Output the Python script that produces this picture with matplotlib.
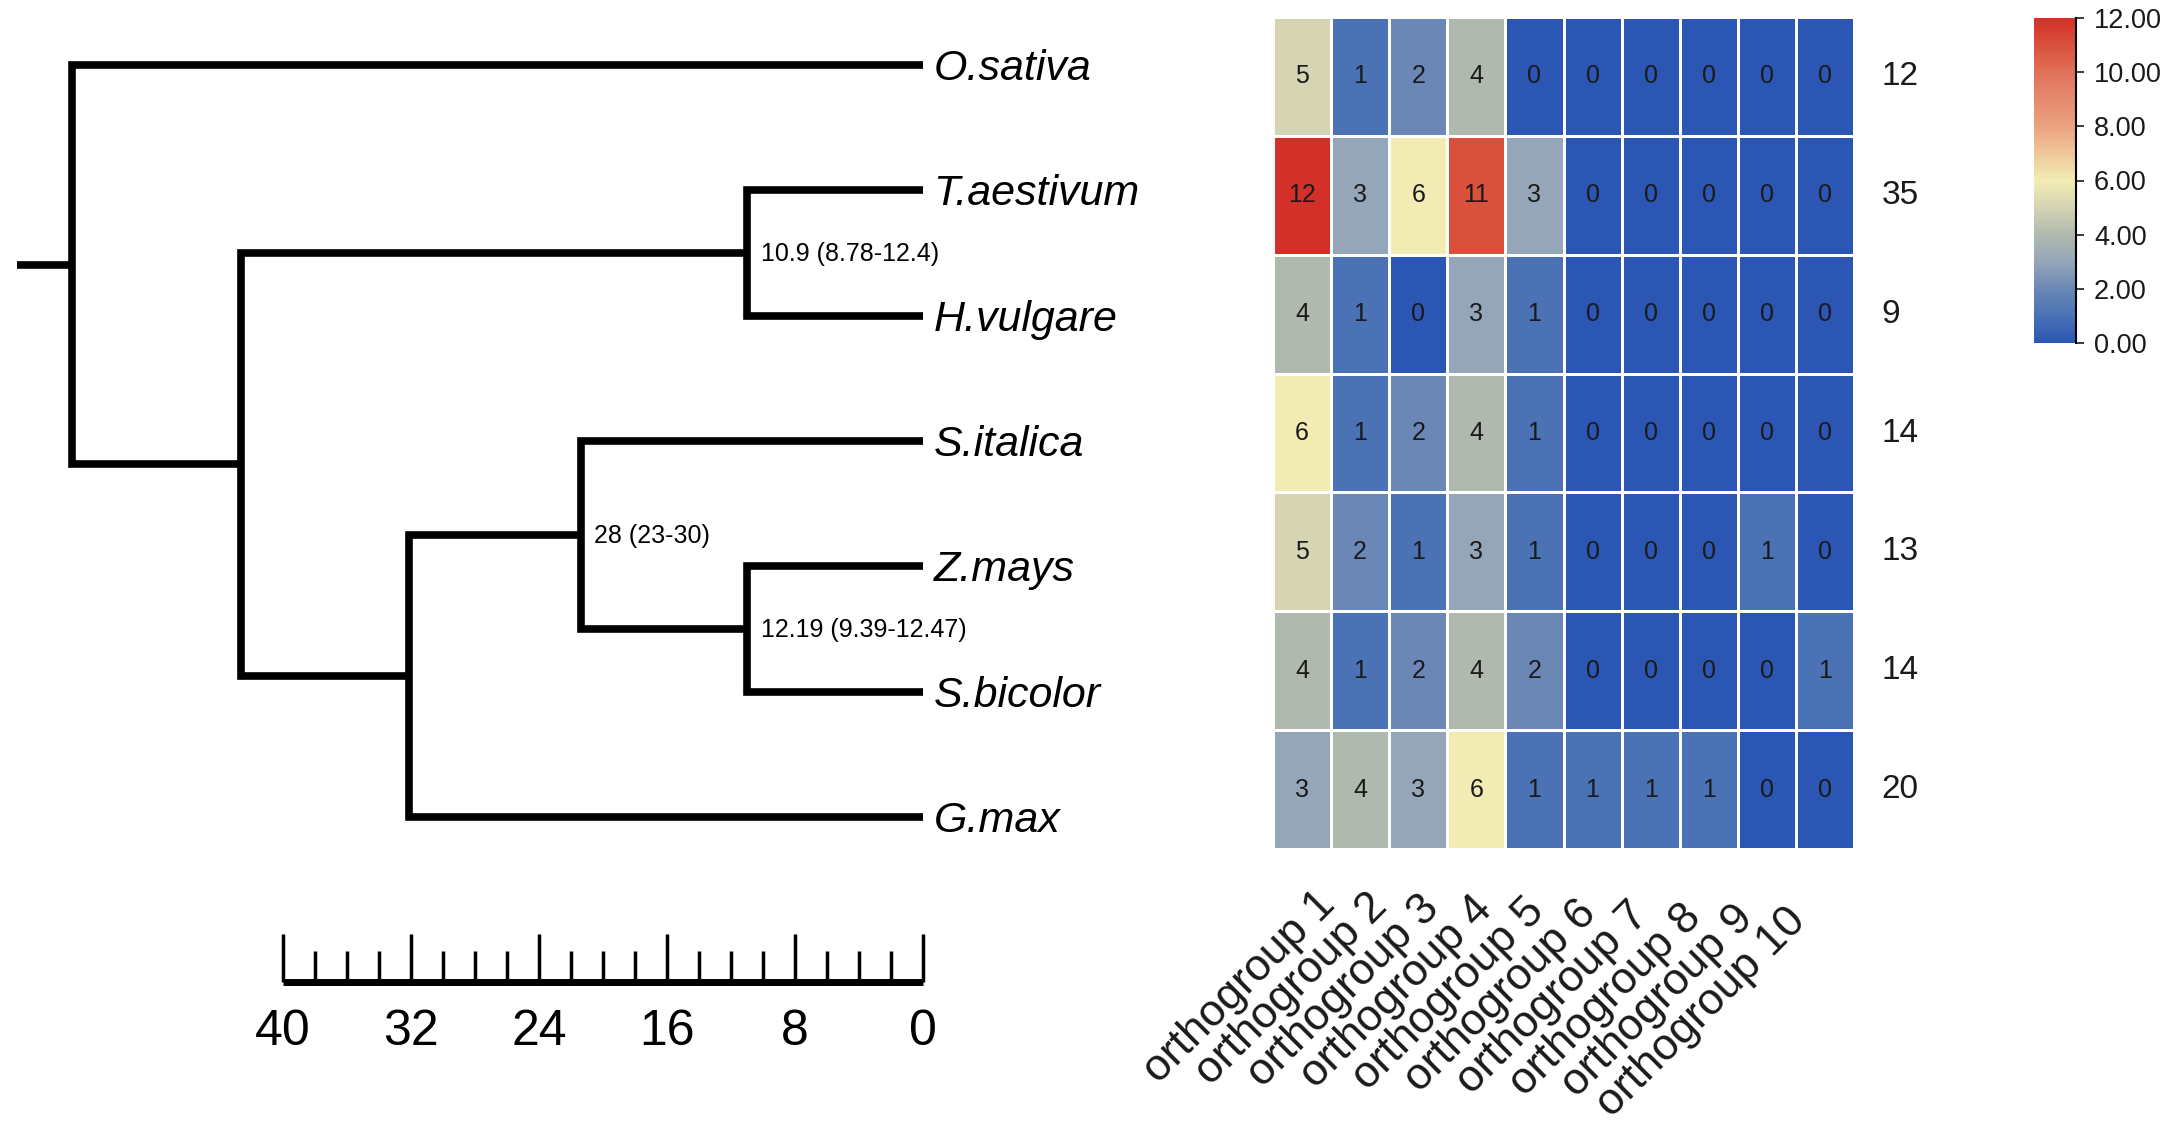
import matplotlib
matplotlib.use("Agg")
import matplotlib.pyplot as plt
import matplotlib.transforms as mtransforms
from matplotlib.colors import LinearSegmentedColormap
import numpy as np

plt.rcParams['font.family'] = ['Liberation Sans', 'DejaVu Sans']

# ---------------- data ----------------
species = ["O.sativa", "T.aestivum", "H.vulgare", "S.italica", "Z.mays", "S.bicolor", "G.max"]
groups = ["orthogroup 1", "orthogroup 2", "orthogroup 3", "orthogroup 4", "orthogroup 5",
          "orthogroup 6", "orthogroup 7", "orthogroup 8", "orthogroup 9", "orthogroup 10"]
counts = [
    [5, 1, 2, 4, 0, 0, 0, 0, 0, 0],
    [12, 3, 6, 11, 3, 0, 0, 0, 0, 0],
    [4, 1, 0, 3, 1, 0, 0, 0, 0, 0],
    [6, 1, 2, 4, 1, 0, 0, 0, 0, 0],
    [5, 2, 1, 3, 1, 0, 0, 0, 1, 0],
    [4, 1, 2, 4, 2, 0, 0, 0, 0, 1],
    [3, 4, 3, 6, 1, 1, 1, 1, 0, 0],
]
totals = [12, 35, 9, 14, 13, 14, 20]

# tree: internal node -> (age, children)
tree = {
    "root": (53.2, ["O.sativa", "A"]),
    "A": (42.6, ["TH", "B"]),
    "TH": (11.0, ["T.aestivum", "H.vulgare"]),
    "B": (32.1, ["C", "G.max"]),
    "C": (21.4, ["S.italica", "ZS"]),
    "ZS": (11.0, ["Z.mays", "S.bicolor"]),
}
root_stub_age = 56.6
node_labels = {"TH": "10.9 (8.78-12.4)", "C": "28 (23-30)", "ZS": "12.19 (9.39-12.47)"}
scale_ticks = list(range(0, 41, 2))
scale_labels = [0, 8, 16, 24, 32, 40]

cmap_vals = [0, 1, 2, 3, 4, 5, 6, 8, 10, 11, 12]
cmap_cols = ["#2b56b3", "#4a72b5", "#6b88b5", "#95a6b8", "#b0b9ad", "#d5d4b3",
             "#f2ecb4", "#eba37f", "#e0725a", "#d9513d", "#d4302a"]

# ---------------- figure ----------------
W, H = 2165, 1130
fig = plt.figure(figsize=(W / 100, H / 100), dpi=100)

# tree axes covering full figure; mapping px = 923 - 16*age, py = 65 + 125.3*i
ax = fig.add_axes([0, 0, 1, 1])
x0px, pxper = 923.0, 16.0
y0px, pyper = 65.0, 125.3
ax.set_xlim(x0px / pxper, (x0px - W) / pxper)
ax.set_ylim((H - y0px) / pyper, -y0px / pyper)
ax.axis("off")

lw = 5.5
ypos = {s: i for i, s in enumerate(species)}
xpos = {s: 0.0 for s in species}


def layout(n):
    if n in ypos:
        return ypos[n]
    age, ch = tree[n]
    ys = [layout(c) for c in ch]
    ypos[n] = float(np.mean(ys))
    xpos[n] = age
    return ypos[n]


layout("root")

for n, (age, ch) in tree.items():
    c1, c2 = ch
    ax.plot([xpos[c1], age, age, xpos[c2]], [ypos[c1], ypos[c1], ypos[c2], ypos[c2]],
            color="black", lw=lw, solid_joinstyle="miter", solid_capstyle="butt")
ax.plot([root_stub_age, xpos["root"]], [ypos["root"], ypos["root"]], color="black", lw=lw,
        solid_capstyle="butt")

sp_tr = mtransforms.offset_copy(ax.transData, fig=fig, x=7.5, y=-3, units="points")
for s in species:
    ax.text(xpos[s], ypos[s], s, transform=sp_tr, fontsize=31, style="italic",
            ha="left", va="center")

nl_tr = mtransforms.offset_copy(ax.transData, fig=fig, x=10, y=-1, units="points")
for n, lab in node_labels.items():
    ax.text(xpos[n], ypos[n], lab, transform=nl_tr, fontsize=18, ha="left", va="center")

# scale bar
yb = (982 - y0px) / pyper
ymaj = (934 - y0px) / pyper
ymin_ = (951 - y0px) / pyper
ylab = (1032 - y0px) / pyper
ax.plot([max(scale_ticks), min(scale_ticks)], [yb, yb], color="black", lw=5, solid_capstyle="butt")
for t in scale_ticks:
    top = ymaj if t in scale_labels else ymin_
    ax.plot([t, t], [yb, top], color="black", lw=2.5, solid_capstyle="butt")
for t in scale_labels:
    ax.text(t, ylab, str(t), fontsize=36, ha="center", va="center")

# ---------------- heatmap ----------------
hl, hr, ht, hb = 1273, 1854, 17, 849
axh = fig.add_axes([hl / W, 1 - hb / H, (hr - hl) / W, (hb - ht) / H])
cmap = LinearSegmentedColormap.from_list(
    "og", [(v / 12.0, c) for v, c in zip(cmap_vals, cmap_cols)])
data = np.array(counts)
mesh = axh.pcolormesh(data, cmap=cmap, vmin=0, vmax=12, edgecolors="white", linewidth=2)
axh.set_xlim(0, data.shape[1])
axh.set_ylim(data.shape[0], 0)
for sp in axh.spines.values():
    sp.set_visible(False)
axh.set_yticks([])
for i in range(data.shape[0]):
    for j in range(data.shape[1]):
        axh.text(j + 0.5, i + 0.5, str(data[i, j]), ha="center", va="center",
                 fontsize=18, color="#1a1a1a")
    axh.text(data.shape[1] + 0.47, i + 0.5, str(totals[i]), ha="left", va="center",
             fontsize=24, color="#1a1a1a")
axh.set_xticks(np.arange(data.shape[1]) + 0.5)
axh.set_xticklabels(groups, rotation=45, ha="right", va="top", rotation_mode="anchor",
                    fontsize=32, color="#1a1a1a")
axh.tick_params(axis="x", length=0, pad=25)
for j, lab in enumerate(axh.get_xticklabels()):
    dx = (12 - 5.8 * j) / 100
    dy = (-1.8 * j) / 100
    off = mtransforms.ScaledTranslation(dx, dy, fig.dpi_scale_trans)
    lab.set_transform(lab.get_transform() + off)

# ---------------- colorbar ----------------
cax = fig.add_axes([2034 / W, 1 - 343 / H, 42 / W, 325 / H])
cb = fig.colorbar(mesh, cax=cax, ticks=[0, 2, 4, 6, 8, 10, 12], format="%.2f")
cb.outline.set_visible(False)
cax.plot([1, 1], [0, 1], transform=cax.transAxes, color="black", lw=1.5, clip_on=False)
cax.tick_params(labelsize=19.5, length=6, width=1.2, pad=7, colors="#1a1a1a")

fig.savefig("out.png", dpi=100)
